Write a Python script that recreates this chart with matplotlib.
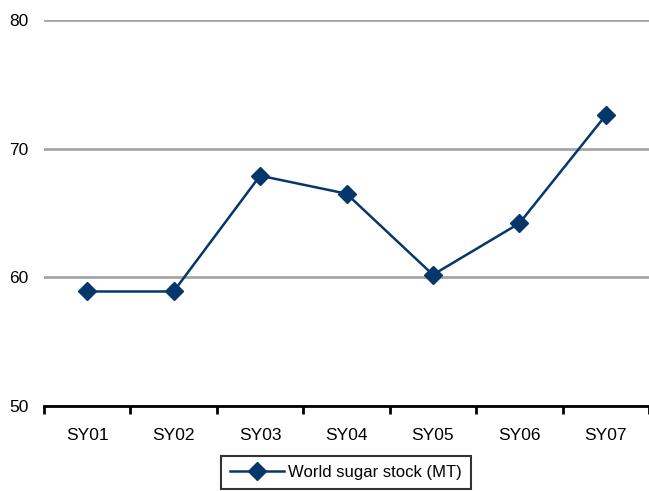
import matplotlib
matplotlib.use("Agg")
import matplotlib.pyplot as plt
from matplotlib.lines import Line2D

plt.rcParams['font.family'] = ['Liberation Sans', 'DejaVu Sans']

seasons = ["SY01", "SY02", "SY03", "SY04", "SY05", "SY06", "SY07"]
stock = [58.9, 58.9, 67.9, 66.5, 60.2, 64.2, 72.6]
series_name = "World sugar stock (MT)"
y_ticks = [50, 60, 70, 80]

W, H = 649, 491
fig = plt.figure(figsize=(W / 100, H / 100), dpi=100)
ax = fig.add_axes([44 / W, 1 - 406 / H, (W - 44) / W, (406 - 20) / H])

navy = "#06376a"
x = list(range(len(seasons)))
line, = ax.plot(x, stock, color=navy, lw=1.8, marker="D", ms=9.5,
                markerfacecolor=navy, markeredgecolor=navy, zorder=3,
                clip_on=False)

ax.set_xlim(-0.5, len(seasons) - 0.5)
ax.set_ylim(50, 80)
ax.set_yticks(y_ticks)
ax.yaxis.grid(True, color="#a6a6a6", lw=2)
ax.set_axisbelow(True)

ax.set_xticks(x)
ax.set_xticklabels(seasons)
ax.set_xticks([i - 0.5 for i in range(len(seasons) + 1)], minor=True)
ax.tick_params(axis="x", which="major", length=0, pad=16, labelsize=12.5)
ax.tick_params(axis="x", which="minor", length=6, width=2, direction="out")
ax.tick_params(axis="y", length=0, pad=11, labelsize=12.5)

for s in ("top", "right", "left"):
    ax.spines[s].set_visible(False)
ax.spines["bottom"].set_linewidth(2)
ax.spines["bottom"].set_color("black")

handle = Line2D([], [], color=navy, lw=1.8, marker="D", ms=9.5,
                markerfacecolor=navy, markeredgecolor=navy)
leg = fig.legend([handle], [series_name], loc="upper left",
                 bbox_to_anchor=(221 / W, 1 - 456 / H), fontsize=12,
                 frameon=True, fancybox=False, edgecolor="black",
                 handlelength=3.2, handletextpad=0.3, borderpad=0.55,
                 borderaxespad=0, numpoints=1)
leg.get_frame().set_linewidth(1.5)

fig.savefig("out.png", dpi=100)
